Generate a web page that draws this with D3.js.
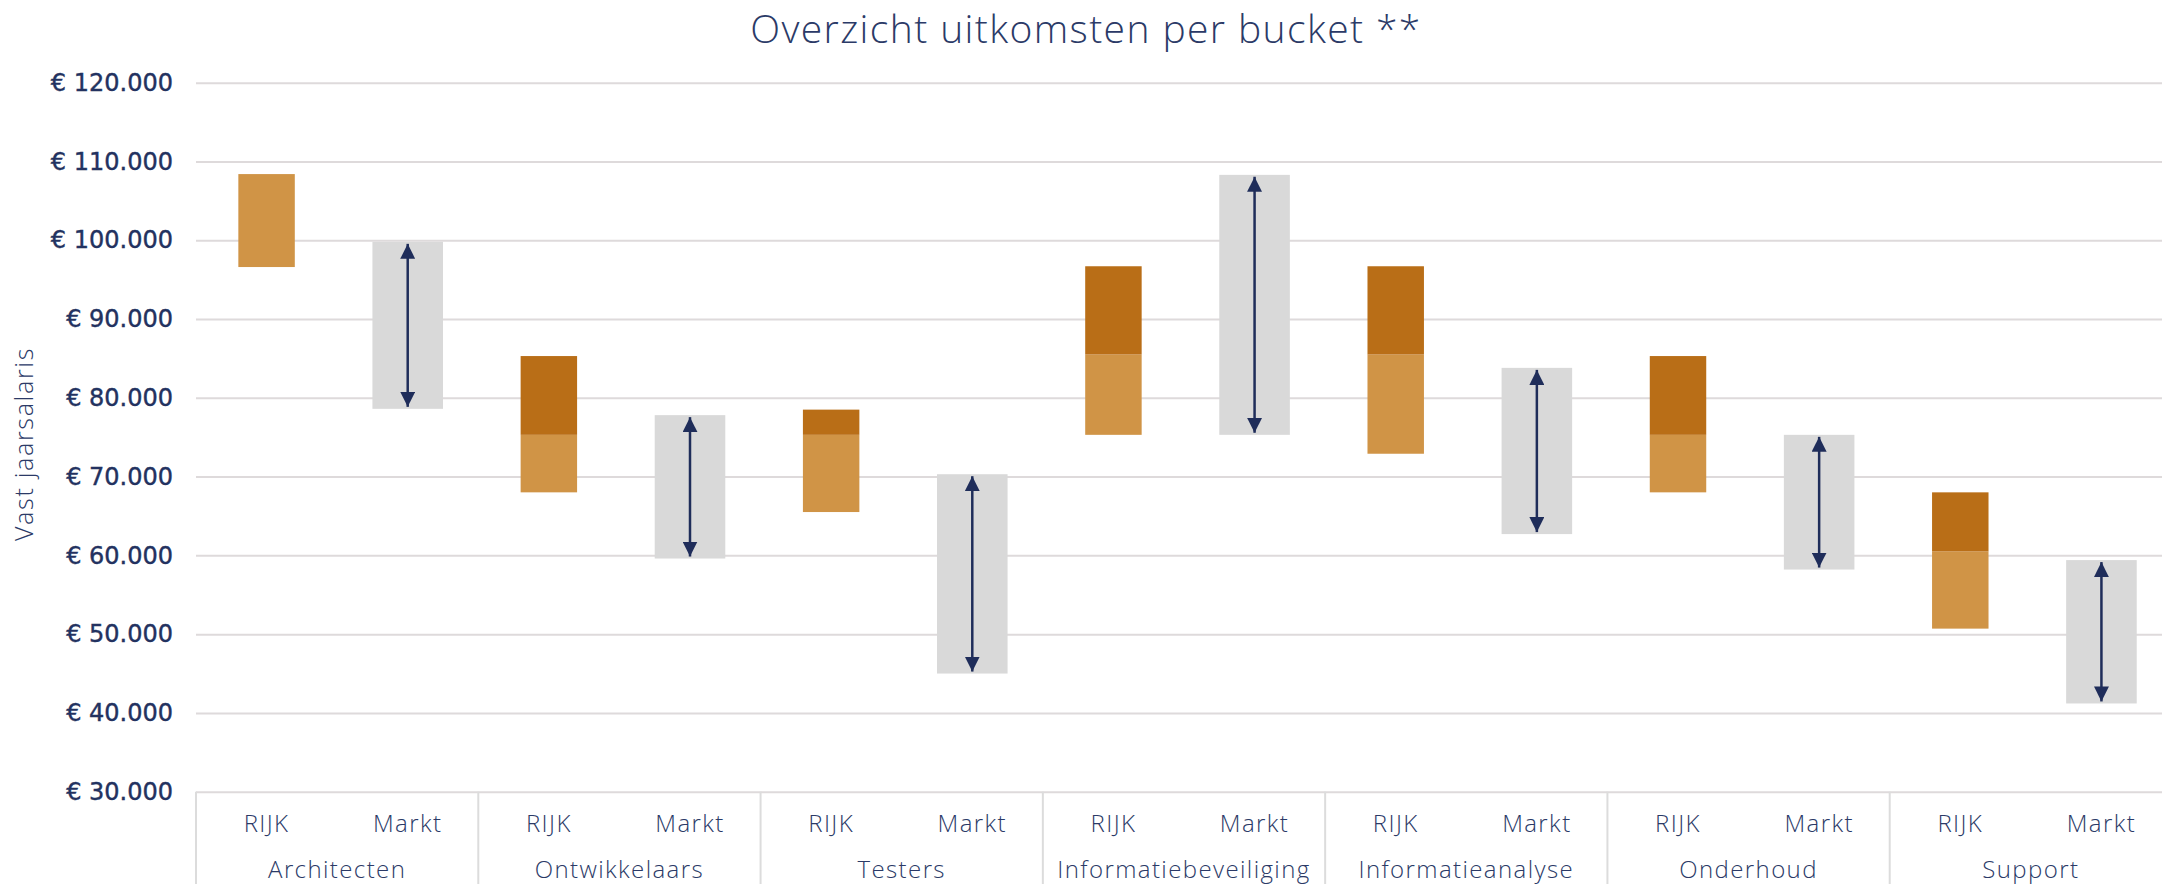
<!DOCTYPE html>
<html>
<head>
<meta charset="utf-8">
<script src="https://cdn.jsdelivr.net/npm/d3@7"></script>
<style>
	body { margin: 0; background: #fff; }
	svg { display: block; }
	text { fill: #2b3a67; }
	.grid line { stroke: #dedadb; stroke-width: 2; }
	.grid path { stroke-width: 0; }
	.y-axis text { font-family: "DejaVu Sans", sans-serif; font-size: 24px; fill: #233260; stroke: #233260; stroke-width: 0.4; }
	text.title { font-family: "Open Sans", sans-serif; font-weight: 300; font-size: 39px; letter-spacing: 1.4px; }
	text.label { font-family: "Open Sans", sans-serif; font-weight: 300; font-size: 25px; letter-spacing: 1.7px; }
	text.cat { font-family: "Open Sans", sans-serif; font-weight: 300; font-size: 24px; letter-spacing: 1.4px; }
	.sep { stroke: #dcdcdc; stroke-width: 2; }
	.rijk-low { fill: #d09446; }
	.rijk-high { fill: #b96e17; }
	.markt { fill: #d9d9d9; }
	.arrow { stroke: #1f2d5a; stroke-width: 2.5; }
</style>
</head>
<body>
<div id="chart"></div>
<script>
const groups = ["Architecten", "Ontwikkelaars", "Testers", "Informatiebeveiliging", "Informatieanalyse", "Onderhoud", "Support"];
const subcats = ["RIJK", "Markt"];
const rijkLow = [96600, 68000, 65500, 75300, 72900, 68000, 50700];
const rijkMid = [108400, 75300, 75300, 85500, 85500, 75300, 60500];
const rijkHigh = [108400, 85300, 78500, 96700, 96700, 85300, 68000];
const marktLow = [78600, 59600, 45000, 75300, 62700, 58200, 41200];
const marktHigh = [99800, 77800, 70300, 108300, 83800, 75300, 59400];
const yTicks = [30000, 40000, 50000, 60000, 70000, 80000, 90000, 100000, 110000, 120000];

const W = 2162, H = 884;
const plotLeft = 196, plotRight = 2172, plotTop = 82.7, plotBottom = 791.7;

const svg = d3.select("#chart").append("svg").attr("width", W).attr("height", H);

const x0 = d3.scaleBand().domain(groups).range([plotLeft, plotRight]);
const x1 = d3.scaleBand().domain(subcats).range([0, x0.bandwidth()]);
const y = d3.scaleLinear().domain([30000, 120000]).range([plotBottom, plotTop]);

const locale = d3.formatLocale({ decimal: ",", thousands: ".", grouping: [3], currency: ["€ ", ""] });
const fmt = locale.format("$,.0f");

svg.append("g")
	.attr("class", "grid y-axis")
	.attr("transform", `translate(${plotLeft},0)`)
	.call(d3.axisLeft(y).tickValues(yTicks).tickSize(-(plotRight - plotLeft)).tickPadding(23).tickFormat(fmt));

// separators under the x axis
const bounds = groups.map(g => x0(g)).concat([plotRight]);
svg.selectAll("line.sep")
	.data(bounds)
	.enter()
	.append("line")
	.attr("class", "sep")
	.attr("x1", d => d).attr("x2", d => d)
	.attr("y1", plotBottom).attr("y2", H + 10);

const rows = groups.map((g, i) => ({
	g, lo: rijkLow[i], mid: rijkMid[i], hi: rijkHigh[i], mlo: marktLow[i], mhi: marktHigh[i]
}));

const bw = x1.bandwidth();
const rw = bw * 0.4, mw = bw * 0.5;

const gBars = svg.selectAll("g.bucket").data(rows).enter().append("g").attr("class", "bucket");

gBars.append("rect")
	.attr("class", "rijk-low")
	.attr("x", d => x0(d.g) + x1("RIJK") + (bw - rw) / 2)
	.attr("width", rw)
	.attr("y", d => y(d.mid))
	.attr("height", d => y(d.lo) - y(d.mid));

gBars.filter(d => d.hi > d.mid).append("rect")
	.attr("class", "rijk-high")
	.attr("x", d => x0(d.g) + x1("RIJK") + (bw - rw) / 2)
	.attr("width", rw)
	.attr("y", d => y(d.hi))
	.attr("height", d => y(d.mid) - y(d.hi));

gBars.append("rect")
	.attr("class", "markt")
	.attr("x", d => x0(d.g) + x1("Markt") + (bw - mw) / 2)
	.attr("width", mw)
	.attr("y", d => y(d.mhi))
	.attr("height", d => y(d.mlo) - y(d.mhi));

const defs = svg.append("defs");
defs.append("marker")
	.attr("id", "head")
	.attr("viewBox", "0 0 10 10")
	.attr("refX", 10).attr("refY", 5)
	.attr("markerUnits", "userSpaceOnUse")
	.attr("markerWidth", 15).attr("markerHeight", 15)
	.attr("orient", "auto-start-reverse")
	.append("path")
	.attr("d", "M0,0L10,5L0,10Z")
	.attr("fill", "#1f2d5a");

gBars.append("line")
	.attr("class", "arrow")
	.attr("x1", d => x0(d.g) + x1("Markt") + bw / 2)
	.attr("x2", d => x0(d.g) + x1("Markt") + bw / 2)
	.attr("y1", d => y(d.mhi) + 2)
	.attr("y2", d => y(d.mlo) - 2)
	.attr("marker-start", "url(#head)")
	.attr("marker-end", "url(#head)");

// x labels
groups.forEach(g => {
	subcats.forEach(s => {
		svg.append("text")
			.attr("class", "cat")
			.attr("x", x0(g) + x1(s) + bw / 2)
			.attr("y", 832)
			.attr("text-anchor", "middle")
			.text(s);
	});
	svg.append("text")
		.attr("class", "cat")
		.attr("x", x0(g) + x0.bandwidth() / 2)
		.attr("y", 878)
		.attr("text-anchor", "middle")
		.text(g);
});

svg.append("text")
	.attr("class", "title")
	.attr("x", 1086)
	.attr("y", 43)
	.attr("text-anchor", "middle")
	.text("Overzicht uitkomsten per bucket **");

svg.append("text")
	.attr("class", "label")
	.attr("transform", "translate(33,444) rotate(-90)")
	.attr("text-anchor", "middle")
	.text("Vast jaarsalaris");
</script>
</body>
</html>
